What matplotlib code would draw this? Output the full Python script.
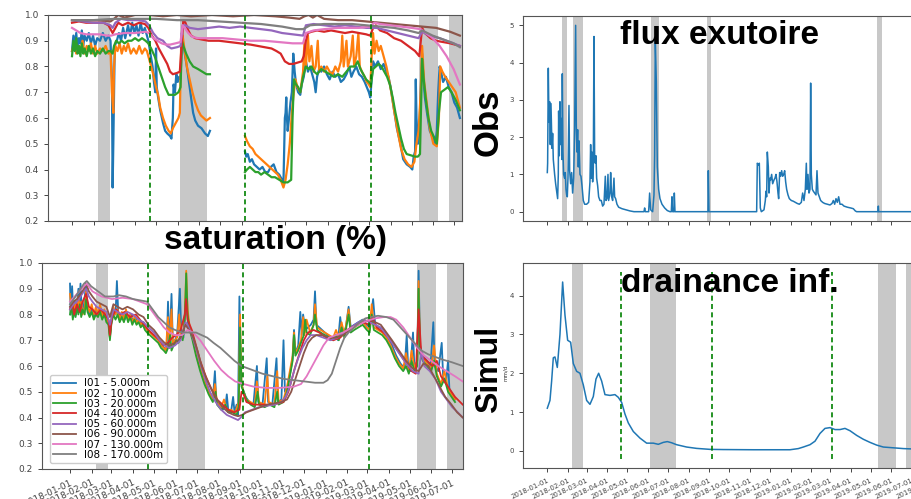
import datetime as dt
import numpy as np
import matplotlib
matplotlib.use("Agg")
import matplotlib.pyplot as plt
import matplotlib.dates as mdates

nan = np.nan
T0 = mdates.date2num(dt.datetime(2018, 1, 1))

# Saturation profiles, top panel: (days since 2018-01-01, saturation)
top_l01 = [(0,.86),(2,.92),(4,.88),(6,.93),(8,.87),(10,.91),(12,.89),(14,.94),(16,.88),(18,.92),(21,.90),(24,.93),(27,.89),(30,.92),(33,.88),(36,.91),(40,.9),(44,.93),(48,.9),(52,.92),(55,.9),(57,.75),(58,.33),(59,.5),(61,.88),(64,.9),(67,.93),(70,.9),(73,.95),(76,.91),(80,.96),(83,.92),(86,.97),(89,.93),(92,.96),(95,.92),(98,.97),(101,.93),(104,.95),(107,.92),(109,.9),(112,.85),(115,.8),(117,.74),(119,.7),(120,.87),(121,.72),(123,.68),(126,.63),(130,.58),(133,.55),(136,.54),(140,.53),(142,.52),(144,.6),(145,.73),(147,.7),(149,.77),(151,.74),(153,.76),(155,.75),(157,.93),(158,.9),(161,.85),(164,.8),(167,.74),(170,.68),(173,.62),(176,.59),(180,.57),(185,.56),(190,.54),(194,.53),(197,.55),(198,nan),(247,.47),(249,.45),(251,.46),(254,.43),(257,.44),(260,.42),(264,.41),(268,.4),(272,.41),(276,.39),(280,.39),(284,.41),(288,.42),(292,.39),(296,.38),(300,.36),(302,.35),(304,.6),(305,.62),(306,.68),(307,.6),(308,.55),(310,.6),(312,.66),(314,.7),(316,.85),(318,.78),(320,.73),(323,.7),(326,.69),(328,.73),(331,.76),(334,.82),(337,.78),(340,.8),(343,.77),(346,.74),(348,.7),(350,.76),(353,.79),(356,.78),(360,.8),(364,.77),(368,.75),(372,.78),(376,.76),(380,.77),(384,.74),(388,.75),(392,.77),(396,.8),(399,.76),(402,.78),(406,.8),(410,.77),(414,.76),(418,.74),(421,.72),(424,.7),(426,.68),(428,.75),(430,.82),(433,.8),(437,.82),(441,.79),(445,.81),(449,.78),(452,.76),(455,.72),(459,.65),(464,.56),(469,.5),(473,.44),(478,.42),(483,.41),(486,.4),(488,.45),(490,.47),(491,.75),(492,.6),(494,.5),(496,.55),(498,.7),(500,.85),(502,.75),(504,.68),(507,.62),(511,.55),(516,.52),(519,.5),(521,.55),(523,.7),(525,.8),(527,.78),(530,.74),(534,.76),(538,.72),(542,.7),(546,.66),(550,.64),(554,.6)]
top_l02 = [(0,.86),(3,.89),(6,.85),(9,.88),(12,.86),(15,.9),(18,.85),(21,.88),(24,.86),(27,.89),(30,.85),(33,.88),(36,.85),(40,.87),(44,.86),(48,.88),(52,.85),(55,.86),(57,.7),(59,.62),(60,.8),(62,.88),(65,.86),(68,.89),(71,.85),(74,.88),(77,.86),(80,.89),(84,.85),(88,.87),(92,.85),(96,.88),(100,.85),(104,.87),(107,.86),(109,.84),(112,.81),(116,.77),(120,.72),(123,.69),(126,.64),(130,.6),(134,.57),(138,.55),(141,.54),(144,.56),(148,.58),(152,.6),(154,.62),(156,.9),(158,.92),(161,.86),(164,.8),(168,.75),(172,.7),(176,.66),(180,.63),(184,.61),(188,.6),(192,.59),(197,.6),(198,nan),(247,.53),(250,.51),(254,.49),(258,.48),(262,.46),(266,.45),(270,.44),(274,.43),(278,.42),(282,.41),(286,.4),(290,.39),(294,.38),(298,.36),(302,.33),(305,.36),(308,.42),(311,.5),(314,.62),(316,.68),(319,.75),(322,.72),(326,.7),(330,.78),(332,.9),(334,.8),(337,.92),(339,.82),(342,.88),(345,.78),(348,.8),(351,.9),(353,.78),(356,.8),(360,.78),(364,.8),(368,.78),(372,.77),(376,.8),(380,.78),(384,.82),(386,.92),(388,.8),(392,.9),(394,.8),(398,.84),(401,.92),(403,.8),(406,.84),(409,.93),(411,.8),(414,.78),(418,.76),(421,.74),(424,.73),(426,.72),(428,.84),(430,.93),(432,.85),(435,.9),(438,.86),(441,.88),(445,.84),(449,.8),(452,.76),(456,.7),(460,.63),(465,.55),(470,.48),(475,.44),(480,.42),(485,.41),(489,.43),(492,.5),(495,.55),(498,.7),(500,.88),(503,.74),(507,.65),(511,.56),(516,.5),(521,.49),(524,.6),(526,.8),(529,.78),(533,.76),(538,.74),(543,.72),(548,.7),(554,.64)]
top_l03 = [(0,.84),(2,.9),(4,.86),(6,.91),(8,.85),(10,.88),(12,.84),(14,.89),(16,.85),(18,.87),(21,.84),(24,.88),(27,.85),(30,.87),(33,.84),(36,.86),(40,.85),(44,.87),(48,.85),(52,.86),(55,.86),(58,.85),(60,.88),(63,.9),(67,.89),(71,.9),(75,.89),(80,.9),(85,.9),(90,.91),(95,.9),(100,.91),(105,.9),(109,.89),(113,.87),(118,.84),(123,.8),(128,.76),(133,.72),(138,.69),(142,.69),(147,.69),(152,.7),(155,.72),(157,.9),(159,.88),(163,.85),(168,.82),(173,.8),(180,.79),(186,.78),(192,.77),(197,.77),(198,nan),(247,.39),(250,.4),(254,.41),(258,.4),(262,.39),(266,.39),(270,.38),(275,.39),(280,.38),(285,.37),(290,.37),(296,.36),(302,.35),(308,.35),(313,.36),(315,.6),(317,.75),(320,.73),(323,.72),(326,.7),(330,.76),(334,.8),(338,.79),(342,.8),(346,.78),(350,.77),(356,.79),(362,.78),(368,.77),(374,.76),(380,.77),(386,.76),(392,.78),(398,.8),(404,.8),(408,.82),(412,.79),(416,.77),(420,.75),(424,.74),(427,.73),(430,.79),(434,.8),(438,.81),(442,.8),(446,.78),(450,.76),(454,.73),(458,.68),(462,.62),(466,.57),(470,.52),(474,.48),(478,.46),(484,.455),(490,.45),(494,.45),(497,.46),(499,.7),(500,.83),(502,.76),(505,.68),(509,.6),(513,.55),(518,.52),(521,.5),(524,.62),(527,.7),(532,.71),(537,.72),(542,.7),(548,.67),(554,.63)]
top_l04 = [(0,.97),(10,.975),(20,.97),(35,.97),(45,.97),(52,.96),(56,.94),(58,.93),(62,.95),(66,.97),(72,.96),(80,.97),(88,.96),(96,.97),(104,.965),(109,.95),(114,.92),(119,.9),(124,.87),(130,.84),(136,.81),(140,.78),(144,.77),(150,.775),(154,.78),(157,.9),(159,.98),(162,.97),(166,.94),(170,.92),(176,.91),(185,.905),(195,.9),(210,.9),(225,.895),(240,.89),(255,.885),(265,.88),(275,.875),(285,.87),(292,.86),(298,.85),(304,.82),(310,.81),(316,.81),(322,.815),(328,.82),(331,.84),(334,.9),(337,.93),(342,.935),(350,.94),(360,.935),(370,.94),(380,.935),(390,.93),(400,.935),(410,.93),(420,.925),(426,.92),(430,.95),(434,.96),(440,.94),(450,.93),(460,.91),(470,.9),(480,.88),(490,.86),(496,.84),(500,.95),(504,.93),(512,.91),(520,.9),(530,.895),(540,.89),(554,.88)]
top_l05 = [(0,.98),(15,.975),(30,.97),(45,.97),(55,.96),(58,.95),(62,.97),(70,.985),(80,.98),(95,.98),(105,.975),(110,.96),(116,.93),(122,.91),(130,.9),(136,.88),(142,.87),(150,.875),(155,.88),(158,.96),(162,.96),(168,.95),(180,.945),(195,.95),(210,.955),(225,.95),(240,.955),(255,.95),(270,.945),(285,.94),(300,.93),(315,.925),(330,.92),(334,.96),(345,.965),(360,.96),(375,.955),(390,.96),(405,.955),(420,.95),(435,.95),(450,.94),(465,.93),(480,.92),(495,.91),(500,.935),(510,.92),(525,.91),(540,.895),(554,.88)]
top_l06 = [(0,.98),(20,.98),(40,.98),(55,.975),(60,.985),(66,1.0),(75,.99),(90,1.0),(110,1.0),(130,.995),(150,1.0),(170,.995),(200,1.0),(230,.995),(260,1.0),(290,.995),(310,.99),(325,.985),(332,.995),(338,1.0),(344,.99),(350,1.0),(360,.985),(380,.98),(400,.98),(420,.975),(440,.97),(460,.965),(480,.96),(500,.955),(520,.95),(540,.935),(554,.92)]
top_l07 = [(0,.95),(6,.94),(12,.93),(20,.925),(30,.925),(40,.925),(50,.92),(56,.92),(62,.925),(75,.93),(90,.93),(105,.935),(110,.93),(116,.91),(122,.9),(128,.89),(134,.885),(140,.885),(148,.89),(155,.895),(158,.96),(161,.95),(166,.93),(172,.915),(180,.91),(195,.91),(215,.91),(235,.905),(255,.9),(275,.9),(295,.895),(315,.89),(330,.89),(334,.93),(345,.94),(360,.945),(380,.95),(395,.95),(410,.95),(425,.955),(432,.97),(440,.965),(455,.96),(470,.955),(485,.95),(498,.945),(506,.93),(515,.91),(525,.88),(535,.84),(545,.79),(554,.73)]
top_l08 = [(0,.98),(30,.98),(60,.985),(90,.985),(120,.985),(150,.98),(180,.98),(210,.975),(240,.97),(270,.965),(300,.955),(320,.945),(330,.945),(340,.96),(360,.965),(380,.965),(400,.965),(420,.96),(440,.955),(460,.95),(480,.94),(495,.93),(500,.94),(515,.92),(530,.905),(545,.89),(554,.875)]

# Saturation profiles, bottom panel
bot_l01 = [(0,.92),(1,.8),(3,.91),(5,.79),(7,.85),(9,.8),(12,.9),(13,.81),(15,.92),(17,.8),(20,.84),(23,.92),(25,.82),(28,.8),(31,.83),(34,.79),(37,.82),(40,.8),(43,.83),(46,.79),(49,.81),(52,.78),(55,.77),(57,.71),(59,.77),(62,.82),(65,.8),(67,.93),(69,.8),(72,.78),(75,.8),(78,.78),(81,.81),(84,.78),(87,.8),(90,.77),(93,.79),(96,.77),(99,.78),(102,.76),(105,.77),(108,.75),(111,.74),(115,.73),(119,.72),(123,.71),(127,.7),(131,.68),(135,.67),(138,.66),(140,.85),(142,.67),(145,.88),(147,.68),(150,.7),(153,.72),(157,.9),(159,.72),(162,.71),(165,.85),(167,.82),(169,.76),(172,.74),(176,.7),(181,.65),(187,.59),(193,.54),(199,.5),(204,.47),(207,.58),(209,.46),(214,.44),(218,.43),(222,.44),(224,.49),(226,.43),(230,.42),(233,.48),(235,.42),(238,.45),(240,.41),(242,.87),(244,.54),(247,.51),(251,.48),(256,.46),(262,.45),(267,.6),(269,.46),(275,.45),(281,.63),(283,.46),(289,.45),(295,.63),(297,.46),(302,.47),(305,.7),(307,.5),(311,.52),(315,.58),(318,.63),(320,.74),(322,.65),(326,.68),(329,.81),(331,.72),(333,.8),(336,.74),(340,.75),(344,.76),(348,.78),(350,.89),(352,.76),(356,.75),(360,.74),(364,.73),(368,.72),(372,.71),(376,.7),(380,.72),(383,.7),(386,.79),(389,.72),(394,.75),(398,.83),(401,.75),(406,.76),(412,.77),(418,.78),(424,.76),(428,.75),(433,.86),(436,.76),(442,.75),(448,.74),(454,.71),(460,.68),(466,.64),(472,.61),(478,.59),(481,.72),(483,.6),(486,.58),(490,.73),(492,.59),(496,.62),(498,.97),(500,.68),(504,.64),(510,.62),(515,.6),(519,.77),(521,.6),(526,.58),(531,.69),(533,.56),(537,.53),(540,.62),(542,.51),(546,.49),(550,.47)]
bot_l02 = [(0,.88),(2,.82),(4,.86),(6,.8),(8,.84),(10,.81),(12,.87),(14,.82),(16,.85),(18,.8),(21,.83),(23,.89),(25,.83),(28,.81),(31,.84),(34,.8),(37,.83),(40,.8),(43,.84),(46,.79),(49,.82),(52,.78),(55,.77),(57,.71),(59,.78),(62,.83),(65,.8),(68,.82),(71,.78),(74,.81),(77,.78),(80,.82),(83,.78),(86,.8),(89,.77),(92,.79),(95,.77),(98,.78),(101,.76),(104,.77),(107,.75),(110,.74),(114,.73),(118,.72),(122,.71),(126,.7),(130,.68),(134,.67),(137,.66),(140,.79),(142,.68),(145,.82),(147,.68),(150,.7),(153,.71),(156,.8),(158,.72),(161,.71),(164,.8),(166,.97),(168,.82),(171,.75),(175,.71),(180,.65),(186,.59),(192,.54),(198,.5),(204,.47),(207,.53),(210,.46),(216,.44),(220,.47),(224,.43),(230,.43),(236,.42),(241,.46),(243,.8),(245,.53),(248,.5),(252,.47),(258,.46),(264,.45),(267,.54),(270,.46),(278,.45),(282,.56),(284,.46),(292,.45),(296,.58),(298,.46),(305,.47),(310,.52),(314,.58),(318,.64),(320,.73),(322,.65),(326,.67),(330,.7),(333,.79),(335,.72),(338,.78),(343,.73),(348,.76),(350,.84),(353,.75),(358,.74),(364,.73),(370,.72),(376,.71),(380,.74),(384,.71),(388,.77),(392,.72),(398,.82),(401,.74),(406,.75),(412,.76),(418,.77),(424,.75),(428,.74),(431,.84),(434,.75),(440,.74),(446,.73),(452,.71),(458,.68),(464,.64),(470,.61),(476,.59),(480,.65),(484,.58),(488,.66),(492,.59),(496,.62),(498,.93),(500,.66),(504,.63),(510,.61),(516,.59),(520,.68),(524,.57),(530,.53),(535,.58),(540,.51),(545,.49),(550,.47)]
bot_l03 = [(0,.8),(2,.84),(4,.78),(6,.82),(8,.79),(10,.83),(12,.8),(14,.84),(16,.79),(18,.82),(21,.8),(23,.86),(25,.81),(28,.79),(31,.81),(34,.78),(37,.8),(40,.79),(43,.81),(46,.78),(49,.8),(52,.77),(55,.76),(57,.7),(59,.76),(62,.8),(65,.78),(68,.8),(71,.77),(74,.79),(77,.77),(80,.8),(83,.77),(86,.79),(89,.76),(92,.78),(95,.76),(98,.77),(101,.75),(104,.76),(107,.74),(110,.73),(114,.72),(118,.71),(122,.7),(126,.69),(130,.67),(134,.66),(137,.65),(140,.67),(143,.72),(145,.66),(148,.68),(152,.7),(155,.69),(158,.72),(161,.7),(164,.78),(166,.96),(168,.8),(171,.74),(175,.7),(180,.64),(186,.58),(192,.53),(198,.49),(204,.46),(208,.5),(210,.45),(216,.43),(222,.45),(226,.42),(232,.42),(238,.41),(241,.44),(243,.75),(245,.52),(248,.5),(252,.47),(258,.45),(264,.44),(268,.5),(270,.45),(278,.44),(285,.45),(292,.44),(296,.5),(298,.45),(305,.46),(310,.5),(314,.56),(318,.62),(320,.72),(322,.64),(326,.66),(330,.69),(334,.72),(336,.78),(338,.73),(343,.72),(348,.76),(350,.8),(353,.74),(358,.73),(364,.72),(370,.71),(376,.7),(380,.72),(384,.7),(388,.75),(392,.71),(398,.8),(401,.73),(406,.74),(412,.75),(418,.76),(424,.74),(428,.73),(431,.8),(434,.74),(440,.73),(446,.72),(452,.7),(458,.67),(464,.63),(470,.6),(476,.58),(480,.6),(484,.57),(488,.62),(492,.58),(496,.6),(498,.9),(500,.65),(504,.62),(510,.6),(516,.58),(520,.62),(524,.56),(530,.52),(535,.55),(540,.5),(545,.48),(550,.46)]
bot_l04 = [(0,.82),(3,.85),(6,.8),(10,.84),(14,.81),(18,.85),(23,.88),(27,.83),(32,.82),(38,.8),(44,.82),(50,.8),(55,.78),(57,.72),(60,.79),(66,.82),(72,.8),(78,.81),(86,.79),(94,.8),(100,.78),(106,.76),(112,.74),(120,.72),(128,.7),(134,.68),(140,.69),(146,.71),(152,.72),(158,.74),(164,.8),(166,.86),(168,.78),(174,.74),(180,.68),(186,.62),(194,.56),(202,.51),(210,.47),(218,.45),(226,.43),(234,.42),(242,.43),(245,.5),(248,.49),(252,.46),(262,.45),(275,.45),(290,.45),(305,.46),(312,.5),(318,.56),(322,.6),(328,.65),(334,.7),(340,.73),(348,.74),(356,.73),(366,.71),(376,.7),(386,.71),(396,.74),(408,.76),(418,.77),(428,.76),(432,.79),(438,.75),(448,.73),(458,.7),(468,.66),(478,.62),(488,.58),(494,.57),(498,.82),(502,.64),(510,.62),(518,.6),(524,.62),(530,.56),(540,.52),(550,.48),(561,.45)]
bot_l05 = [(0,.82),(5,.84),(10,.85),(15,.87),(20,.89),(23,.9),(27,.87),(32,.85),(38,.83),(45,.82),(52,.81),(57,.76),(62,.82),(68,.81),(75,.8),(82,.81),(90,.8),(98,.78),(105,.77),(112,.75),(120,.73),(128,.7),(135,.68),(142,.67),(150,.68),(158,.7),(165,.77),(168,.76),(174,.72),(180,.67),(186,.61),(193,.55),(200,.5),(208,.46),(216,.43),(224,.41),(232,.4),(240,.39),(244,.4),(250,.42),(260,.43),(270,.44),(280,.445),(292,.45),(302,.46),(308,.48),(314,.52),(320,.58),(326,.63),(332,.67),(338,.7),(344,.72),(352,.72),(362,.71),(372,.7),(382,.71),(392,.73),(402,.75),(412,.77),(420,.78),(428,.77),(436,.76),(444,.75),(452,.72),(460,.69),(470,.65),(480,.61),(490,.58),(498,.57),(502,.66),(506,.6),(514,.58),(522,.55),(530,.5),(538,.47),(546,.44),(554,.42),(561,.4)]
bot_l06 = [(0,.83),(5,.85),(10,.86),(15,.88),(20,.9),(23,.92),(27,.89),(32,.87),(38,.85),(45,.84),(52,.83),(57,.79),(62,.84),(68,.83),(75,.82),(82,.83),(90,.82),(98,.8),(105,.79),(112,.76),(120,.74),(128,.71),(135,.69),(142,.68),(150,.69),(158,.71),(165,.76),(170,.74),(176,.71),(182,.66),(188,.6),(195,.55),(202,.51),(210,.47),(218,.44),(226,.42),(234,.41),(240,.405),(246,.41),(252,.42),(262,.43),(272,.44),(282,.45),(292,.455),(302,.46),(310,.47),(316,.5),(322,.55),(328,.6),(334,.65),(340,.69),(346,.71),(352,.72),(360,.72),(370,.71),(380,.71),(390,.72),(400,.74),(410,.76),(420,.77),(428,.78),(436,.77),(444,.76),(452,.73),(460,.7),(470,.66),(480,.62),(490,.59),(498,.58),(505,.61),(512,.6),(520,.56),(528,.52),(536,.48),(545,.45),(553,.42),(561,.4)]
bot_l07 = [(0,.85),(10,.88),(20,.91),(24,.92),(32,.89),(45,.87),(60,.86),(75,.865),(90,.86),(100,.85),(110,.84),(118,.81),(126,.78),(134,.75),(142,.73),(150,.72),(160,.72),(168,.74),(176,.73),(186,.7),(196,.66),(206,.62),(216,.585),(226,.56),(236,.54),(248,.53),(262,.52),(280,.515),(300,.515),(320,.52),(330,.53),(338,.56),(346,.6),(354,.64),(362,.68),(370,.71),(380,.72),(390,.73),(400,.745),(412,.76),(424,.775),(436,.785),(448,.79),(458,.79),(466,.78),(476,.75),(486,.71),(496,.67),(506,.64),(516,.62),(526,.6),(538,.58),(550,.56),(561,.54)]
bot_l08 = [(0,.84),(8,.87),(15,.9),(20,.92),(24,.93),(30,.91),(40,.89),(50,.87),(62,.87),(70,.875),(80,.87),(90,.86),(100,.855),(110,.85),(118,.82),(126,.79),(134,.77),(142,.75),(150,.74),(160,.73),(172,.73),(180,.73),(188,.72),(196,.71),(205,.69),(215,.67),(225,.645),(235,.62),(245,.6),(260,.585),(275,.57),(290,.56),(305,.55),(320,.545),(335,.54),(350,.535),(362,.535),(368,.545),(374,.57),(380,.62),(386,.67),(392,.71),(398,.73),(406,.75),(414,.77),(422,.785),(430,.79),(440,.795),(452,.79),(462,.78),(472,.75),(482,.72),(492,.69),(502,.66),(512,.645),(522,.635),(532,.625),(545,.615),(561,.6)]

# Observed outlet flux and simulated bottom drainage (mm/d)
flux_obs = [(0,1.05),(0.5,1.3),(1.5,3.85),(2.5,2.4),(3.5,2.95),(4.5,1.8),(5.5,2.9),(7,1.7),(8,2.1),(9,1.4),(11,1.0),(12.5,0.75),(14,0.55),(15.5,0.35),(16.5,1.0),(17,2.7),(18,1.5),(19,2.95),(20,1.8),(21,2.5),(22,1.4),(22.5,3.7),(23.5,1.6),(24.5,1.0),(26,0.9),(27,1.05),(28,0.6),(29,0.45),(30,0.4),(31,0.9),(32.5,2.85),(33.5,1.1),(35,0.75),(36.5,1.05),(38,0.5),(39.5,0.9),(41,2.2),(42.5,5.0),(43.5,2.3),(44.5,1.6),(45.5,2.2),(46.5,1.2),(47.5,1.9),(49,1.0),(50.5,0.95),(52,0.7),(54,0.3),(56,0.2),(59,0.2),(62,0.25),(64,0.8),(65,1.8),(66,0.9),(67,1.6),(68,0.8),(69,1.2),(70,4.7),(71,1.5),(72,1.3),(73,1.5),(74,0.9),(75.5,0.7),(77,0.4),(79,0.3),(81,0.3),(83,0.15),(85,0.2),(87,0.95),(88,0.3),(89.5,0.35),(91,1.0),(92,0.3),(94,0.5),(95,1.05),(96.5,0.4),(98,0.3),(100,0.9),(101,0.4),(102.5,0.35),(104.5,0.2),(107,0.12),(112,0.08),(118,0.05),(124,0.02),(130,0.0),(145,0.0),(146,0.1),(147,0.0),(152,0.0),(153.5,0.5),(155,0.05),(158,0.0),(160,0.45),(161,1.5),(162,4.6),(163.5,3.5),(165,1.2),(167,0.6),(169,0.35),(172,0.2),(176,0.1),(180,0.03),(184,0.0),(186,0.0),(187,0.4),(188,0.0),(190,0.0),(190.5,0.5),(191.5,0.0),(241,0.0),(241.5,1.1),(242.5,0.0),(314,0.0),(315,1.3),(316.5,1.25),(318,1.3),(319.5,0.1),(321,0.0),(325,0.05),(327,0.3),(328,0.55),(329,0.4),(330,1.6),(331.5,1.2),(332.5,0.5),(334,0.9),(335,0.85),(336.5,1.0),(338,0.75),(340,0.85),(341.5,0.9),(343,1.0),(344.5,0.8),(346,0.5),(347,0.35),(348.5,1.05),(350,0.95),(351.5,1.1),(353,0.95),(354.5,1.0),(356,1.1),(357.5,0.8),(359,0.6),(361,0.45),(363,0.35),(366,0.3),(369,0.28),(372,0.25),(375,0.22),(378,0.2),(381,0.25),(383,0.5),(385,0.3),(387,0.6),(388.5,1.3),(389.5,0.6),(391,1.0),(392.5,0.5),(394,0.6),(395,3.45),(396,1.0),(397.5,0.6),(399,0.55),(401,0.5),(403,0.45),(404.5,1.1),(406,0.5),(408,0.4),(410,0.3),(413,0.25),(416,0.22),(420,0.2),(424,0.18),(427,0.22),(429,0.3),(431,0.2),(433,0.35),(435,0.25),(437,0.4),(439,0.2),(442,0.2),(445,0.15),(450,0.12),(455,0.1),(459,0.08),(462,0.02),(464,0.0),(496,0.0),(496.5,0.15),(497,0.0),(600,0.0)]
drain_sim = [(0,1.1),(4,1.3),(6.5,1.8),(9,2.4),(11.5,2.42),(15,2.15),(19,3.0),(23,4.35),(26.5,3.5),(30.5,2.85),(35,2.8),(39,2.25),(44,2.05),(49,2.0),(54,1.7),(59,1.3),(64,1.2),(69,1.4),(73,1.85),(77,2.0),(81.5,1.8),(86.5,1.45),(94,1.43),(101.5,1.45),(106.5,1.38),(111.5,1.25),(116.5,0.95),(121.5,0.72),(129,0.5),(139,0.33),(149,0.2),(159,0.2),(166.5,0.17),(174,0.22),(180,0.24),(186.5,0.21),(194,0.16),(209,0.1),(224,0.065),(244,0.04),(264,0.035),(309,0.03),(364,0.03),(376.5,0.06),(384,0.1),(394,0.16),(401.5,0.25),(409,0.45),(416.5,0.58),(424,0.6),(431.5,0.55),(439,0.55),(446.5,0.58),(454,0.52),(464,0.4),(474,0.3),(484,0.22),(494,0.15),(504,0.1),(519,0.08),(534,0.06),(549,0.05),(580,0.04)]

labels = ["l01 - 5.000m", "l02 - 10.000m", "l03 - 20.000m", "l04 - 40.000m",
          "l05 - 60.000m", "l06 - 90.000m", "l07 - 130.000m", "l08 - 170.000m"]
colors = ["#1f77b4", "#ff7f0e", "#2ca02c", "#d62728",
          "#9467bd", "#8c564b", "#e377c2", "#7f7f7f"]

# shaded periods and event markers, in days since 2018-01-01
bands_main = [(37, 54), (154, 193), (496, 523), (538, 700)]
bands_obs = [(21.5, 29), (38, 54), (155, 168), (240, 246), (495, 501.5)]
events = [111, 247, 427]

# monthly ticks, first of each month from January 2018
tick_dates = [dt.datetime(2018 + (m // 12), m % 12 + 1, 1) for m in range(20)]


def xy(points):
    a = np.array(points, dtype=float)
    return T0 + a[:, 0], a[:, 1]


W, H = 912, 499
fig = plt.figure(figsize=(W / 100, H / 100), dpi=100)


def box(l, t, r, b):
    return [l / W, 1 - b / H, (r - l) / W, (b - t) / H]


ax_tl = fig.add_axes(box(48, 15, 462, 221))
ax_bl = fig.add_axes(box(42, 263, 463, 469))
ax_tr = fig.add_axes(box(523, 16, 960, 221))
ax_br = fig.add_axes(box(523, 263, 960, 468))

for ax in (ax_tl, ax_bl, ax_tr, ax_br):
    for s in ax.spines.values():
        s.set_color("#555555")
        s.set_linewidth(0.8)
    ax.set_xticks(mdates.date2num(tick_dates))
    ax.xaxis.set_major_formatter(mdates.DateFormatter("%Y-%m-%d"))
    ax.tick_params(colors="#444444", length=3, width=0.7, labelsize=6.5)

# saturation panels
for ax, series, lw, bands, xl in (
        (ax_tl, [top_l01, top_l02, top_l03, top_l04, top_l05, top_l06, top_l07, top_l08], 1.6, bands_main, (-34.3, 557)),
        (ax_bl, [bot_l01, bot_l02, bot_l03, bot_l04, bot_l05, bot_l06, bot_l07, bot_l08], 1.3, bands_main, (-40, 561.4))):
    for a, b in bands:
        ax.axvspan(T0 + a, T0 + b, color="#c8c8c8", lw=0, zorder=0)
    for pts, c, lab in zip(series, colors, labels):
        x, y = xy(pts)
        ax.plot(x, y, color=c, lw=lw, label=lab)
    for d in events:
        ax.axvline(T0 + d, color="green", ls=(0, (3, 2)), lw=1.2)
    ax.set_ylim(0.2, 1.0)
    ax.set_yticks(np.arange(0.2, 1.01, 0.1))
    ax.set_xlim(T0 + xl[0], T0 + xl[1])

ax_tl.tick_params(axis="x", labelbottom=False)
ax_bl.legend(loc="lower left", bbox_to_anchor=(0.019, 0.029), borderaxespad=0,
             fontsize=7.5, labelspacing=0.02, handlelength=2.2, handletextpad=0.8,
             borderpad=0.3, frameon=True, fancybox=True, edgecolor="#cccccc",
             framealpha=1)

# observed outlet flux
for a, b in bands_obs:
    ax_tr.axvspan(T0 + a, T0 + b, color="#c8c8c8", lw=0, zorder=0)
x, y = xy(flux_obs)
ax_tr.plot(x, y, color="#1f77b4", lw=1.1)
ax_tr.set_ylim(-0.25, 5.25)
ax_tr.set_yticks(range(0, 6))
ax_tr.tick_params(axis="y", labelsize=5)
ax_tr.tick_params(axis="x", labelbottom=False)

# simulated drainage
for a, b in bands_main:
    ax_br.axvspan(T0 + a, T0 + b, color="#c8c8c8", lw=0, zorder=0)
x, y = xy(drain_sim)
ax_br.plot(x, y, color="#1f77b4", lw=1.1)
for d in events:
    ax_br.plot([T0 + d, T0 + d], [-0.2, 4.6], color="green", ls=(0, (3, 2)), lw=1.2)
ax_br.set_ylim(-0.44, 4.84)
ax_br.set_yticks(range(0, 5))
ax_br.tick_params(axis="y", labelsize=5)

for ax in (ax_tr, ax_br):
    ax.set_xlim(T0 - 36.45, T0 + 619)

for ax, fs in ((ax_bl, 6.5), (ax_br, 5)):
    for lab in ax.get_xticklabels():
        lab.set_rotation(25)
        lab.set_ha("right")
        lab.set_rotation_mode("anchor")
        lab.set_fontsize(fs)

bold = dict(family="Liberation Sans", fontweight="bold", color="black")
fig.text(275 / W, 1 - 241 / H, "saturation (%)", ha="center", va="center", fontsize=24, **bold)
fig.text(720 / W, 1 - 35 / H, "flux exutoire", ha="center", va="center", fontsize=24, **bold)
fig.text(730 / W, 1 - 283 / H, "drainance inf.", ha="center", va="center", fontsize=24, **bold)
fig.text(488 / W, 1 - 122 / H, "Obs", ha="center", va="center", rotation=90, fontsize=25, **bold)
fig.text(489 / W, 1 - 369 / H, "Simul", ha="center", va="center", rotation=90, fontsize=23, **bold)
fig.text(506 / W, 1 - 373 / H, "mm/d", ha="center", va="center", rotation=90, fontsize=4, color="#333333")

fig.savefig("out.png", dpi=100)
